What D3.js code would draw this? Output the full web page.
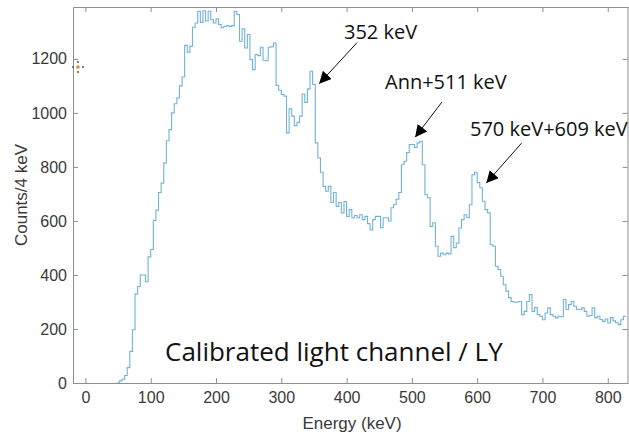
<!DOCTYPE html>
<html>
<head>
<meta charset="utf-8">
<script src="https://cdn.jsdelivr.net/npm/d3@7"></script>
<style>
  body { margin: 0; background: #fff; }
  svg { display: block; }
</style>
</head>
<body>
<svg id="chart" width="629" height="434"></svg>
<script>
const width = 629,
  height = 434;

// histogram: 4 keV bins, first bin starts at 48 keV
const binStart = 48;
const binWidth = 4;
const counts = [
  0, 8, 14, 28, 57, 117, 197, 330, 357, 400, 400, 375, 467, 494, 602, 640,
  705, 740, 815, 897, 938, 1000, 1034, 1055, 1100, 1133, 1250, 1225, 1247, 1317, 1333, 1376,
  1335, 1378, 1340, 1376, 1345, 1333, 1348, 1327, 1315, 1320, 1323, 1320, 1323, 1376, 1364, 1265,
  1311, 1240, 1290, 1197, 1160, 1216, 1212, 1243, 1195, 1193, 1243, 1245, 1259, 1102, 1084, 1068,
  1062, 926, 1015, 988, 953, 965, 988, 1070, 1039, 1089, 1154, 1105, 889, 833, 780, 728,
  710, 728, 668, 705, 654, 668, 630, 672, 617, 642, 612, 620, 612, 623, 605, 617,
  590, 567, 605, 617, 617, 575, 612, 612, 600, 649, 660, 680, 705, 808, 821, 853,
  883, 883, 872, 889, 895, 808, 697, 686, 580, 593, 506, 469, 481, 475, 481, 478, 543,
  501, 518, 574, 605, 623, 612, 660, 771, 780, 742, 723, 673, 642, 630, 512, 506,
  432, 420, 395, 364, 340, 316, 302, 299, 300, 302, 253, 265, 302, 327, 265,
  279, 253, 247, 234, 259, 278, 253, 247, 241, 247, 245, 309, 272, 290, 302, 284,
  272, 272, 278, 265, 247, 250, 278, 241, 247, 235, 228, 237, 222, 242, 230, 223,
  216, 234, 247
];

const xTicks = [0, 100, 200, 300, 400, 500, 600, 700, 800];
const yTicks = [0, 200, 400, 600, 800, 1000, 1200];

// peak labels, with arrow tail and head in [keV, counts]
const peakLabels = ["352 keV", "Ann+511 keV", "570 keV+609 keV"];
const arrowTails = [[416, 1260], [546, 1040], [668, 888]];
const arrowHeads = [[358, 1108], [505, 910], [614, 740]];

const margin = { left: 73, right: 1, top: 7, bottom: 51 };

const x = d3.scaleLinear().domain([-19, 831]).range([margin.left, width - margin.right]);
const y = d3.scaleLinear().domain([0, 1392]).range([height - margin.bottom, margin.top]);

const svg = d3.select("#chart");

svg.append("defs").append("clipPath").attr("id", "plot-clip")
  .append("rect")
  .attr("x", margin.left).attr("y", margin.top)
  .attr("width", width - margin.right - margin.left)
  .attr("height", height - margin.bottom - margin.top);

svg.append("defs").append("marker")
  .attr("id", "head")
  .attr("viewBox", "0 0 10 10")
  .attr("refX", 10).attr("refY", 5)
  .attr("markerWidth", 12).attr("markerHeight", 12)
  .attr("markerUnits", "userSpaceOnUse")
  .attr("orient", "auto")
  .append("path").attr("d", "M0,0 L10,5 L0,10 Z").attr("fill", "#000");

const axisColor = "#8e8e8e";
const textColor = "#3a3a3a";
const tick = 5;
const fmt = d3.format("d");

// box axes
const axBottom = svg.append("g").attr("transform", `translate(0,${y(0)})`)
  .call(d3.axisBottom(x).tickValues(xTicks).tickFormat(fmt).tickSizeInner(-tick).tickSizeOuter(0).tickPadding(9));
const axTop = svg.append("g").attr("transform", `translate(0,${margin.top})`)
  .call(d3.axisTop(x).tickValues(xTicks).tickSizeInner(-tick).tickSizeOuter(0).tickFormat(""));
const axLeft = svg.append("g").attr("transform", `translate(${margin.left},0)`)
  .call(d3.axisLeft(y).tickValues(yTicks).tickFormat(fmt).tickSizeInner(-tick).tickSizeOuter(0).tickPadding(6));
const axRight = svg.append("g").attr("transform", `translate(${width - margin.right - 0.5},0)`)
  .call(d3.axisRight(y).tickValues(yTicks).tickSizeInner(-tick).tickSizeOuter(0).tickFormat(""));

[axBottom, axTop, axLeft, axRight].forEach((g) => {
  g.selectAll("path, line").attr("stroke", axisColor);
  g.selectAll("text")
    .attr("fill", textColor)
    .style("font-family", "'Liberation Sans', Arial, sans-serif")
    .style("font-size", "16px");
});

// histogram stairs
const pts = [[binStart, 0]];
counts.forEach((c, i) => {
  pts.push([binStart + i * binWidth, c]);
  pts.push([binStart + (i + 1) * binWidth, c]);
});

svg.append("path")
  .datum(pts)
  .attr("clip-path", "url(#plot-clip)")
  .attr("fill", "none")
  .attr("stroke", "#72b2d8")
  .attr("stroke-width", 1.1)
  .attr("d", d3.line().x((d) => x(d[0])).y((d) => y(d[1])));

// axis titles
svg.append("text")
  .attr("x", 352)
  .attr("y", 429)
  .attr("text-anchor", "middle")
  .attr("fill", textColor)
  .style("font-family", "'Liberation Sans', Arial, sans-serif")
  .style("font-size", "17px")
  .text("Energy (keV)");

svg.append("text")
  .attr("transform", `translate(27,${(margin.top + y(0)) / 2}) rotate(-90)`)
  .attr("text-anchor", "middle")
  .attr("fill", textColor)
  .style("font-family", "'Liberation Sans', Arial, sans-serif")
  .style("font-size", "17px")
  .text("Counts/4 keV");

// annotations
const note = svg.append("g").style("font-family", "'Open Sans', 'Noto Sans', sans-serif");
const labelPos = [[344, 39], [385, 89], [470, 136]];

peakLabels.forEach((t, i) => {
  note.append("text")
    .attr("x", labelPos[i][0]).attr("y", labelPos[i][1])
    .style("font-size", "20px")
    .attr("fill", "#111")
    .text(t);
  note.append("line")
    .attr("x1", x(arrowTails[i][0])).attr("y1", y(arrowTails[i][1]))
    .attr("x2", x(arrowHeads[i][0])).attr("y2", y(arrowHeads[i][1]))
    .attr("stroke", "#111").attr("stroke-width", 1)
    .attr("marker-end", "url(#head)");
});

note.append("text")
  .attr("x", 165).attr("y", 361)
  .style("font-size", "26px")
  .attr("fill", "#111")
  .text("Calibrated light channel / LY");

// small datatip glyph next to the 1200 tick
const glyph = svg.append("g").attr("transform", "translate(78,67)");
glyph.append("circle").attr("r", 1.8).attr("fill", "#e08a2c");
[[0, -5], [0, 5], [-5, 0], [5, 0]].forEach((p) => {
  glyph.append("circle").attr("cx", p[0]).attr("cy", p[1]).attr("r", 1).attr("fill", "#555");
});
</script>
</body>
</html>
